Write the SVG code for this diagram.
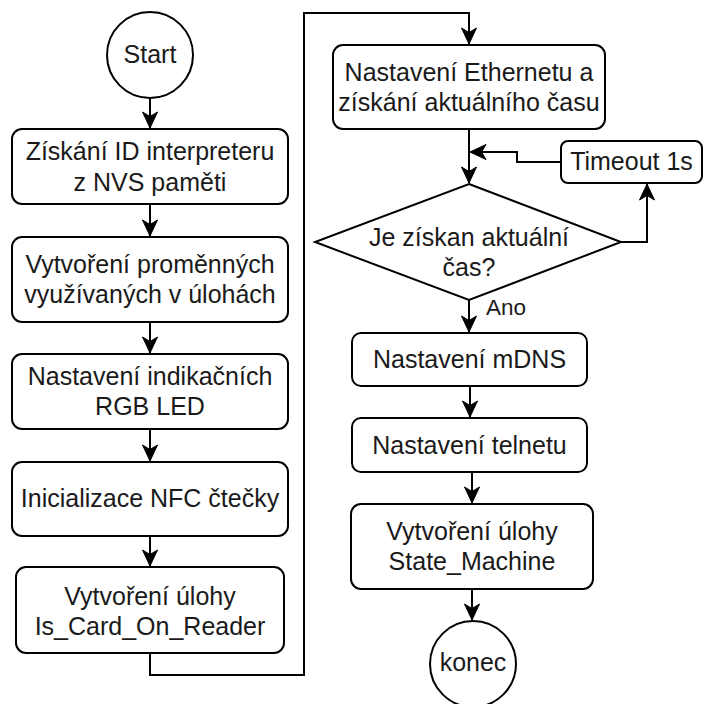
<svg xmlns="http://www.w3.org/2000/svg" width="704" height="704" viewBox="0 0 704 704">
  <defs>
    <style>
      .shape { fill: #ffffff; stroke: #000000; stroke-width: 2; }
      .edge { fill: none; stroke: #000000; stroke-width: 2; }
      text { font-family: "Liberation Sans", Arial, Helvetica, sans-serif; font-size: 25px; fill: #1a1a1a; text-anchor: middle; }
      .lbl { font-size: 22.5px; text-anchor: start; }
    </style>
    <marker id="arrow" markerUnits="userSpaceOnUse" viewBox="0 0 18 18" markerWidth="18" markerHeight="18" refX="17" refY="9" orient="auto">
      <path d="M1,1.5 L17,9 L1,16.5 L5.5,9 Z" fill="#000000" stroke="#000000" stroke-width="1" stroke-linejoin="miter"/>
    </marker>
  </defs>

  <rect width="704" height="704" fill="#ffffff"/>

  <!-- connectors -->
  <g id="connectors">
    <path class="edge" d="M150,98 V128" marker-end="url(#arrow)"/>
    <path class="edge" d="M150,204 V236" marker-end="url(#arrow)"/>
    <path class="edge" d="M150,322 V353" marker-end="url(#arrow)"/>
    <path class="edge" d="M150,429 V461" marker-end="url(#arrow)"/>
    <path class="edge" d="M150,536 V566" marker-end="url(#arrow)"/>
    <path class="edge" d="M150,653 V675 H304 V13 H469 V44" marker-end="url(#arrow)"/>
    <path class="edge" d="M469,129 V183" marker-end="url(#arrow)"/>
    <path class="edge" d="M561,162 H517 V152 H470" marker-end="url(#arrow)"/>
    <path class="edge" d="M621,242 H647 V184" marker-end="url(#arrow)"/>
    <path class="edge" d="M469,300 V332" marker-end="url(#arrow)"/>
    <path class="edge" d="M470,386 V417" marker-end="url(#arrow)"/>
    <path class="edge" d="M472,472 V503" marker-end="url(#arrow)"/>
    <path class="edge" d="M472,589 V620" marker-end="url(#arrow)"/>
    <text class="lbl" x="486" y="315">Ano</text>
  </g>

  <!-- left column -->
  <g id="start">
    <circle class="shape" cx="150" cy="55" r="43"/>
    <text x="150" y="63">Start</text>
  </g>
  <g id="read-id">
    <rect class="shape" x="12" y="129" width="276" height="75" rx="10"/>
    <text x="150" y="160">Získání ID interpreteru</text>
    <text x="150" y="191">z NVS paměti</text>
  </g>
  <g id="create-vars">
    <rect class="shape" x="12" y="237" width="276" height="85" rx="10"/>
    <text x="150" y="273">Vytvoření proměnných</text>
    <text x="150" y="303">využívaných v úlohách</text>
  </g>
  <g id="rgb-led">
    <rect class="shape" x="12" y="354" width="276" height="75" rx="10"/>
    <text x="150" y="385">Nastavení indikačních</text>
    <text x="150" y="415">RGB LED</text>
  </g>
  <g id="nfc-init">
    <rect class="shape" x="12" y="462" width="276" height="74" rx="10"/>
    <text x="150" y="507">Inicializace NFC čtečky</text>
  </g>
  <g id="task-card">
    <rect class="shape" x="16" y="567" width="268" height="86" rx="10"/>
    <text x="150" y="605">Vytvoření úlohy</text>
    <text x="150" y="635">Is_Card_On_Reader</text>
  </g>

  <!-- right column -->
  <g id="ethernet">
    <rect class="shape" x="333" y="45" width="272" height="84" rx="10"/>
    <text x="469" y="81">Nastavení Ethernetu a</text>
    <text x="469" y="111">získání aktuálního času</text>
  </g>
  <g id="timeout">
    <rect class="shape" x="561" y="141" width="141" height="42" rx="7"/>
    <text x="631.5" y="170">Timeout 1s</text>
  </g>
  <g id="time-check">
    <polygon class="shape" points="469,184 621,242 469,300 315,242"/>
    <text x="469" y="246">Je získan aktuální</text>
    <text x="469" y="276">čas?</text>
  </g>
  <g id="mdns">
    <rect class="shape" x="352" y="333" width="235" height="53" rx="9"/>
    <text x="469.5" y="368">Nastavení mDNS</text>
  </g>
  <g id="telnet">
    <rect class="shape" x="352" y="418" width="235" height="54" rx="9"/>
    <text x="469.5" y="454">Nastavení telnetu</text>
  </g>
  <g id="task-state">
    <rect class="shape" x="351" y="504" width="242" height="85" rx="10"/>
    <text x="472" y="540">Vytvoření úlohy</text>
    <text x="472" y="570">State_Machine</text>
  </g>
  <g id="end">
    <circle class="shape" cx="473" cy="664" r="43"/>
    <text x="473" y="671">konec</text>
  </g>
</svg>
